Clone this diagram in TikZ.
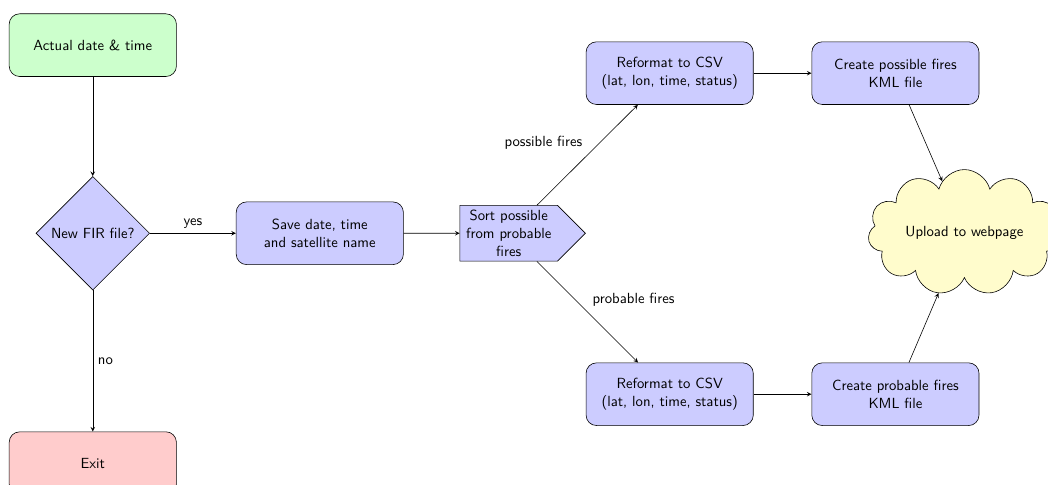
\documentclass[tikz,border=0pt]{standalone}
\usepackage{tikz}
\usetikzlibrary{shapes.geometric,shapes.symbols}

\begin{document}
\begin{tikzpicture}[font=\sffamily, >=stealth,
                    block/.style={draw, rounded corners=2.5mm, fill=blue!20,
                                  minimum width=4cm, minimum height=1.5cm, align=center},
                    decision/.style={draw, diamond, fill=blue!20, aspect=1},
                    sorter/.style={draw, signal, signal to=east, fill=blue!20,
                                   text width=2.1cm, align=center},
                    web/.style={draw, cloud, cloud puffs=11, fill=yellow!20, aspect=2,
                                minimum width=4.6cm, minimum height=2.85cm}]
\useasboundingbox (-2.22,1.08) rectangle (22.85,-10.5);
\node[block, fill=green!20] (date) at (0,0) {Actual date \& time};
\node[decision] (newfile) at (0,-4.5) {New FIR file?};
\node[block, fill=red!20] (exit) at (0,-10) {Exit};
\node[block] (save) at (5.43,-4.5) {Save date, time\\and satellite name};
\node[sorter] (sort) at (9.95,-4.5) {Sort possible\\from probable\\fires};
\node[block] (csvpos) at (13.8,-0.67) {Reformat to CSV\\(lat, lon, time, status)};
\node[block] (csvprob) at (13.8,-8.35) {Reformat to CSV\\(lat, lon, time, status)};
\node[block] (kmlpos) at (19.2,-0.67) {Create possible fires\\KML file};
\node[block] (kmlprob) at (19.2,-8.35) {Create probable fires\\KML file};
\node[web] (upload) at (20.85,-4.48) {Upload to webpage};

\draw[->] (date) -- (newfile);
\draw[->] (newfile) -- node[above] {yes} (save);
\draw[->] (newfile) -- node[right] {no} (exit);
\draw[->] (save) -- (sort);
\draw[->] (sort) -- node[above left] {possible fires} (csvpos);
\draw[->] (sort) -- node[above right] {probable fires} (csvprob);
\draw[->] (csvpos) -- (kmlpos);
\draw[->] (csvprob) -- (kmlprob);
\draw[->] (kmlpos) -- (upload);
\draw[->] (kmlprob) -- (upload);
\end{tikzpicture}
\end{document}
